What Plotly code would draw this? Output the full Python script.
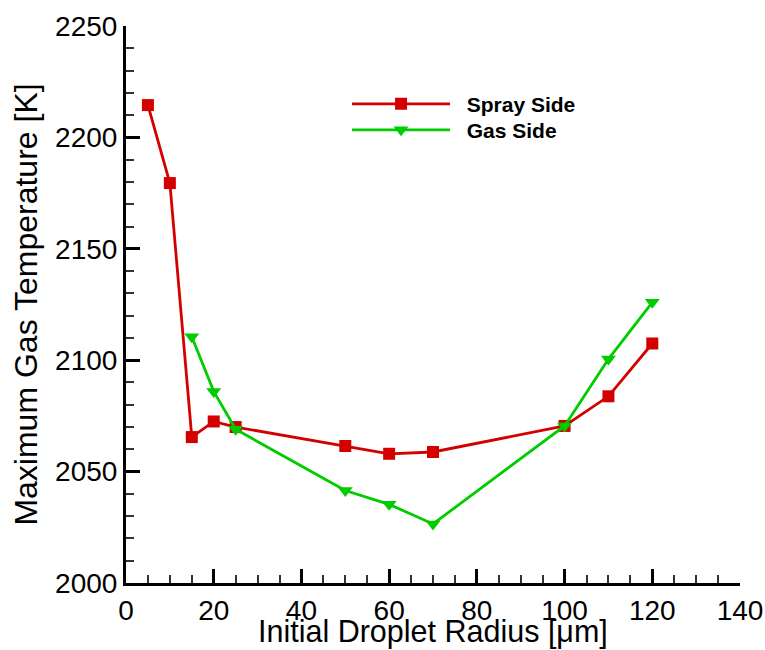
import plotly.graph_objects as go

radius_spray = [5, 10, 15, 20, 25, 50, 60, 70, 100, 110, 120]
temp_spray = [2214.5, 2179.5, 2065.5, 2072.5, 2070.0, 2061.5, 2058.0, 2058.8, 2070.5, 2083.8, 2107.5]

radius_gas = [15, 20, 25, 50, 60, 70, 100, 110, 120]
temp_gas = [2110.5, 2086.0, 2069.0, 2041.5, 2035.3, 2026.5, 2070.5, 2100.5, 2126.0]

x_ticks = [0, 20, 40, 60, 80, 100, 120, 140]
y_ticks = [2000, 2050, 2100, 2150, 2200, 2250]

series_names = ["Spray Side", "Gas Side"]
x_title = "Initial Droplet Radius [μm]"
y_title = "Maximum Gas Temperature [K]"

RED = "#d40000"
GREEN = "#00cc00"
FONT = "Liberation Sans, Arial, Helvetica"
PAD = "\u00a0\u00a0"

fig = go.Figure()
fig.add_trace(go.Scatter(
    x=radius_spray, y=temp_spray, mode="lines+markers", name=PAD + series_names[0],
    line=dict(color=RED, width=2.8),
    marker=dict(symbol="square", size=12, color=RED),
    legend="legend",
))
fig.add_trace(go.Scatter(
    x=radius_gas, y=temp_gas, mode="lines+markers", name=PAD + series_names[1],
    line=dict(color=GREEN, width=2.8),
    marker=dict(symbol="triangle-down", size=13, color=GREEN),
    legend="legend2",
))

axis_common = dict(
    showgrid=False, zeroline=False, showline=True, linecolor="black", linewidth=3,
    ticks="inside", ticklen=14, tickwidth=3, tickcolor="black",
    tickfont=dict(family=FONT, size=28, color="black"),
    mirror=False, automargin=False,
)
fig.update_xaxes(
    **axis_common, range=[0, 140], tickvals=x_ticks,
    minor=dict(ticks="inside", ticklen=8, tickwidth=1.5, tickcolor="#333333", dtick=5, showgrid=False),
)
fig.update_yaxes(
    **axis_common, range=[2000, 2250], tickvals=y_ticks,
    minor=dict(ticks="inside", ticklen=8, tickwidth=1.5, tickcolor="#333333", dtick=10, showgrid=False),
    title=dict(text=y_title, font=dict(family=FONT, size=32, color="black"), standoff=8),
)
fig.add_annotation(
    text=x_title, xref="paper", yref="paper", x=0.5, y=-0.0863,
    xanchor="center", yanchor="middle", showarrow=False,
    font=dict(family=FONT, size=30.5, color="black"),
)
legend_common = dict(
    xanchor="left", yanchor="middle",
    font=dict(family=FONT, size=21, color="black", weight="bold"),
    bgcolor="rgba(0,0,0,0)", itemwidth=98,
)
fig.update_layout(
    width=765, height=650,
    margin=dict(l=126, r=25, t=26, b=67),
    plot_bgcolor="white", paper_bgcolor="white",
    showlegend=True,
    legend=dict(x=0.36, y=0.8597, **legend_common),
    legend2=dict(x=0.36, y=0.813, **legend_common),
)
fig.write_html("out.html")
